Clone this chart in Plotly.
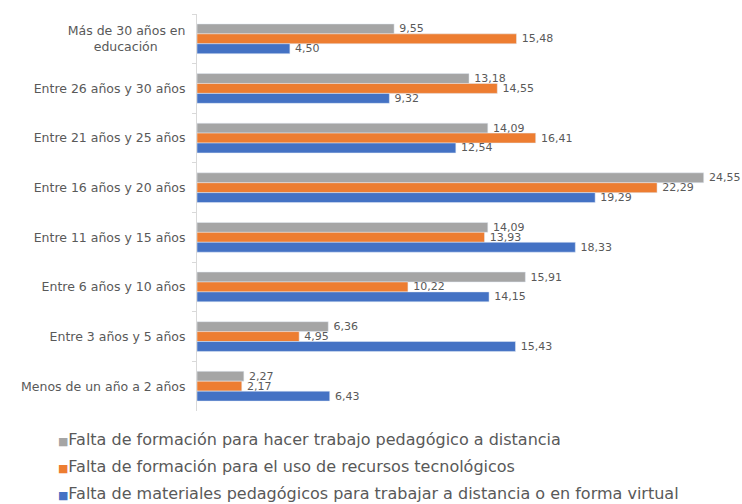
import plotly.graph_objects as go

categories = [
    "Más de 30 años en<br>educación" + "&nbsp;" * 7,
    "Entre 26 años y 30 años",
    "Entre 21 años y 25 años",
    "Entre 16 años y 20 años",
    "Entre 11 años y 15 años",
    "Entre 6 años y 10 años",
    "Entre 3 años y 5 años",
    "Menos de un año a 2 años",
]

series_names = [
    "Falta de formación para hacer trabajo pedagógico a distancia",
    "Falta de formación para el uso de recursos tecnológicos",
    "Falta de materiales pedagógicos para trabajar a distancia o en forma virtual",
]

formacion_distancia = [9.55, 13.18, 14.09, 24.55, 14.09, 15.91, 6.36, 2.27]
formacion_recursos = [15.48, 14.55, 16.41, 22.29, 13.93, 10.22, 4.95, 2.17]
falta_materiales = [4.50, 9.32, 12.54, 19.29, 18.33, 14.15, 15.43, 6.43]

colors = ["#A5A5A5", "#ED7D31", "#4472C4"]
FONT = "DejaVu Sans"
TEXT_COLOR = "#595959"


def fmt(v):
    return "&#8201;" + f"{v:.2f}".replace(".", ",")


fig = go.Figure()
for name, vals, col in zip(series_names,
                           [formacion_distancia, formacion_recursos, falta_materiales],
                           colors):
    fig.add_trace(go.Bar(
        y=categories, x=vals, orientation="h", name=name,
        marker=dict(color=col),
        text=[fmt(v) for v in vals], textposition="outside",
        constraintext="none", cliponaxis=False,
        textfont=dict(family=FONT, size=11, color=TEXT_COLOR),
        showlegend=False,
    ))

# legend entries: small coloured square drawn inline before each name
for i, (name, col) in enumerate(zip(series_names, colors)):
    fig.add_trace(go.Scatter(
        x=[None], y=[None], mode="markers",
        name=f'<span style="color:{col};font-size:11px">■</span>{name}',
        marker=dict(symbol="square", size=1, color="rgba(0,0,0,0)"),
        legendgroup=f"g{i}", showlegend=True,
    ))

fig.update_layout(
    width=742, height=504,
    margin=dict(l=197, r=29, t=14, b=93, autoexpand=False),
    paper_bgcolor="white", plot_bgcolor="white",
    barmode="group", bargap=0.4, bargroupgap=0,
    font=dict(family=FONT, color=TEXT_COLOR, size=12),
    xaxis=dict(range=[0, 25], visible=False),
    yaxis=dict(
        autorange="reversed", showline=True, linecolor="#D9D9D9", linewidth=1,
        ticks="outside", tickcolor="#D9D9D9", ticklen=4, tickson="boundaries",
        ticklabelstandoff=8,
        tickfont=dict(family=FONT, size=12.5, color=TEXT_COLOR),
        showgrid=False, zeroline=False,
    ),
    legend=dict(
        x=-0.347, xanchor="left", y=-0.028, yanchor="top",
        orientation="v", tracegroupgap=3,
        font=dict(family=FONT, size=16, color=TEXT_COLOR),
        itemwidth=30, bgcolor="rgba(0,0,0,0)",
    ),
)

fig.write_html("out.html")
